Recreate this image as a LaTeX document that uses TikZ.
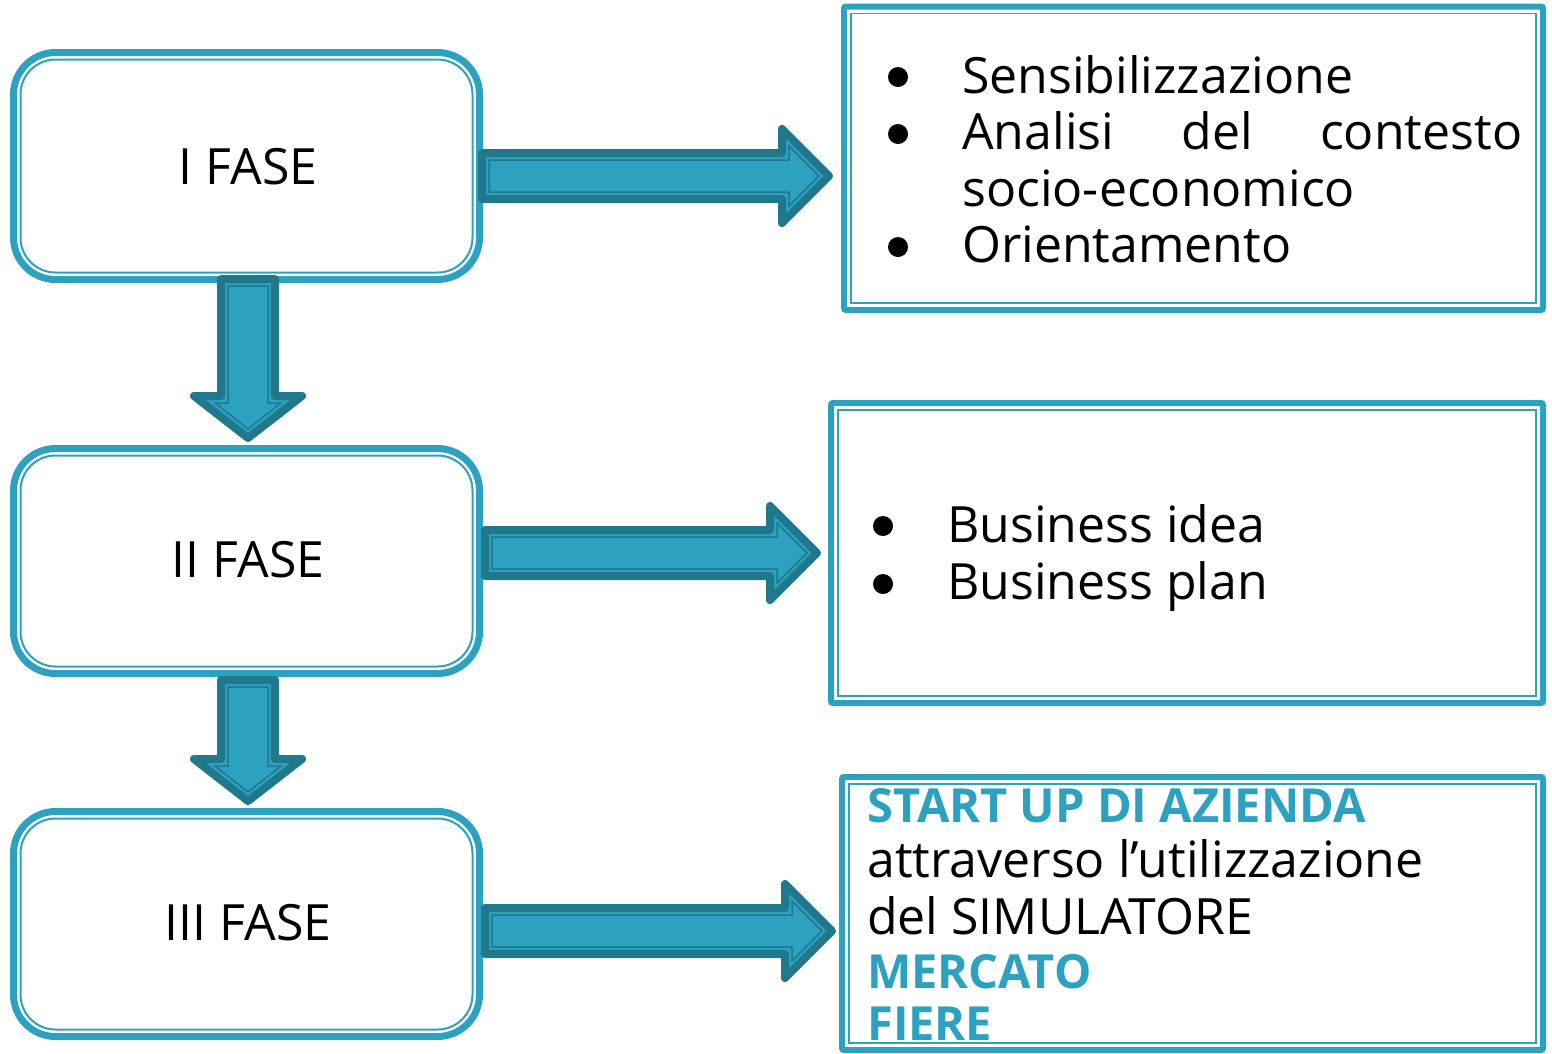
\documentclass[tikz,border=0pt]{standalone}
\usepackage{fontspec}
\setmainfont{Open Sans}
\usepackage{tikz}

\definecolor{tealbox}{RGB}{44,162,192}
\definecolor{tealdark}{RGB}{31,120,139}

\tikzset{
  phasebox/.style={draw=tealbox, line width=7pt, rounded corners=42pt},
  phaseinner/.style={draw=tealbox, line width=2pt, rounded corners=35pt},
  infobox/.style={draw=tealbox, line width=6pt, rounded corners=2pt},
  infoinner/.style={draw=tealbox, line width=1.5pt},
  bigarrow/.style={fill=tealbox, draw=tealdark, line width=8pt, line join=round},
  arrowline/.style={draw=tealdark, line width=1.5pt},
  phasetext/.style={anchor=base, inner sep=0pt, font=\fontsize{50}{57}\selectfont},
  txt/.style={anchor=base west, inner sep=0pt, font=\fontsize{50}{57}\selectfont},
  hltxt/.style={anchor=base west, inner sep=0pt, text=tealbox, font=\fontsize{47}{55}\selectfont\bfseries}
}

\newcommand{\rarrow}[3]{%
  \filldraw[bigarrow] (#1,#3-23) -- (#2-47,#3-23) -- (#2-47,#3-47) -- (#2,#3) -- (#2-47,#3+47) -- (#2-47,#3+23) -- (#1,#3+23) -- cycle;
  \draw[arrowline] (#1+7,#3-16) -- (#2-40,#3-16) -- (#2-40,#3-30) -- (#2-10,#3) -- (#2-40,#3+30) -- (#2-40,#3+16) -- (#1+7,#3+16) -- cycle;
}
\newcommand{\darrow}[3]{%
  \filldraw[bigarrow] (#1-27,#2) -- (#1+27,#2) -- (#1+27,#3-42) -- (#1+54,#3-42) -- (#1,#3) -- (#1-54,#3-42) -- (#1-27,#3-42) -- cycle;
  \draw[arrowline] (#1-20,#2+7) -- (#1+20,#2+7) -- (#1+20,#3-35) -- (#1+33,#3-35) -- (#1,#3-9) -- (#1-33,#3-35) -- (#1-20,#3-35) -- cycle;
}

\begin{document}
\begin{tikzpicture}[x=1pt, y=-1pt]
  \useasboundingbox (0,0) rectangle (1552,1053);

  % phases
  \draw[phasebox] (13.5,52.5) rectangle (479.5,279.5);
  \draw[phaseinner] (20.5,59.5) rectangle (472.5,272.5);
  \draw[phasebox] (13.5,448.5) rectangle (479.5,673.5);
  \draw[phaseinner] (20.5,455.5) rectangle (472.5,666.5);
  \draw[phasebox] (13.5,811.5) rectangle (479.5,1036.5);
  \draw[phaseinner] (20.5,818.5) rectangle (472.5,1029.5);

  \node[phasetext] (fase1) at (248,184) {I FASE};
  \node[phasetext] (fase2) at (248,577) {II FASE};
  \node[phasetext] (fase3) at (248,940) {III FASE};

  % contents
  \draw[infobox] (844,6.5) rectangle (1543,310);
  \draw[infoinner] (851,13.5) rectangle (1536,303);
  \draw[infobox] (831,403) rectangle (1543,703);
  \draw[infoinner] (838,410) rectangle (1536,696);
  \draw[infobox] (842,777) rectangle (1543,1050);
  \draw[infoinner] (849,784) rectangle (1536,1043);

  \fill (898,77) circle (10);
  \fill (898,134) circle (10);
  \fill (898,247) circle (10);
  \node[txt] (sens) at (962,93) {Sensibilizzazione};
  \node[txt] (anal) at (962,149) {\makebox[560pt][s]{Analisi del contesto}};
  \node[txt] (socio) at (962,206) {socio-economico};
  \node[txt] (orient) at (962,262) {Orientamento};

  \fill (883,526) circle (10);
  \fill (883,584) circle (10);
  \node[txt] (idea) at (947,542) {Business idea};
  \node[txt] (plan) at (947,599) {Business plan};

  \node[hltxt] (startup) at (867,822) {START UP DI AZIENDA};
  \node[txt] (attr) at (867,877) {attraverso l’utilizzazione};
  \node[txt] (simul) at (867,934) {del SIMULATORE};
  \node[hltxt] (merc) at (867,988) {MERCATO};
  \node[hltxt] (fiere) at (867,1040) {FIERE};

  % arrows
  \rarrow{482}{829}{176}
  \rarrow{485}{817}{553}
  \rarrow{485}{832}{931}
  \darrow{248}{279}{438}
  \darrow{248}{680}{801}
\end{tikzpicture}
\end{document}
